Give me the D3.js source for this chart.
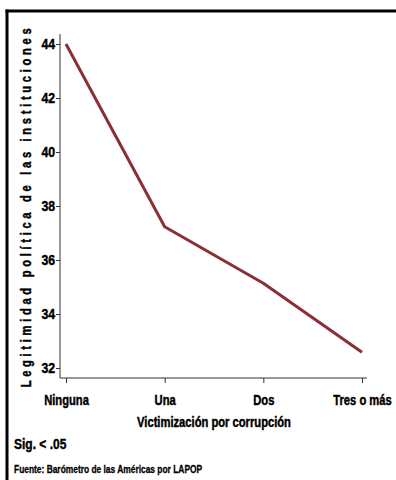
<!DOCTYPE html>
<html>
<head>
<meta charset="utf-8">
<script src="https://cdn.jsdelivr.net/npm/d3@7"></script>
<style>
  html, body { margin: 0; padding: 0; background: #fff; }
  svg { display: block; }
  text { font-family: "Liberation Sans Narrow", "Arial Narrow", "Liberation Sans", Arial, sans-serif; font-weight: bold; fill: #000; stroke: #000; stroke-width: 0.45px; }
</style>
</head>
<body>
<div id="chart"></div>
<script>
// Categories of corruption victimization and mean legitimacy score for each
const categories = ["Ninguna", "Una", "Dos", "Tres o más"];
const legitimacy = [44.0, 37.23, 35.14, 32.58];
const yTicks = [32, 34, 36, 38, 40, 42, 44];

const W = 396, H = 480;
const NARROW = 0.8; // horizontal squeeze giving a condensed face

const svg = d3.select("#chart").append("svg")
  .attr("width", W).attr("height", H);

// Outer frame (top and left rules)
svg.append("line").attr("x1", 5.5).attr("x2", W).attr("y1", 11).attr("y2", 11)
  .attr("stroke", "#000").attr("stroke-width", 3);
svg.append("line").attr("x1", 7).attr("x2", 7).attr("y1", 9.5).attr("y2", H)
  .attr("stroke", "#000").attr("stroke-width", 3);

const x = d3.scalePoint().domain(categories).range([66, 362]);
const y = d3.scaleLinear().domain([32, 44]).range([368, 44]);

const axisColor = "#333";

// Y axis
const yAxis = svg.append("g").attr("transform", "translate(60,0)")
  .call(d3.axisLeft(y).tickValues(yTicks).tickSize(4).tickPadding(2).tickFormat(d3.format("d")));
yAxis.select(".domain").remove();
yAxis.selectAll(".tick line").attr("stroke", axisColor);
yAxis.selectAll(".tick text")
  .style("font-size", "15px")
  .attr("font-family", null)
  .attr("transform", "scale(0.82,1)");
svg.append("line").attr("x1", 60).attr("x2", 60).attr("y1", 34).attr("y2", 378)
  .attr("stroke", axisColor).attr("stroke-width", 1);

// X axis
const xAxis = svg.append("g").attr("transform", "translate(0,378)")
  .call(d3.axisBottom(x).tickSize(5).tickPadding(12));
xAxis.select(".domain").remove();
xAxis.selectAll(".tick line").attr("stroke", axisColor);
xAxis.selectAll(".tick text")
  .style("font-size", "14px")
  .attr("font-family", null)
  .attr("transform", `scale(${NARROW},1)`);
svg.append("line").attr("x1", 60).attr("x2", 367).attr("y1", 378).attr("y2", 378)
  .attr("stroke", axisColor).attr("stroke-width", 1);

// Series line
const line = d3.line()
  .x((d, i) => x(categories[i]))
  .y(d => y(d));
svg.append("path").datum(legitimacy)
  .attr("d", line)
  .attr("fill", "none")
  .attr("stroke", "#8b2f36")
  .attr("stroke-width", 3)
  .attr("stroke-linejoin", "round");

// Condensed text helper
function label(tx, ty, str, size, anchor, extra) {
  return svg.append("text")
    .attr("transform", `translate(${tx},${ty}) ${extra || ""} scale(${NARROW},1)`)
    .attr("text-anchor", anchor)
    .style("font-size", size + "px")
    .text(str);
}

// Axis titles
label(30.5, 206, "Legitimidad política de las instituciones", 14, "middle", "rotate(-90)")
  .style("letter-spacing", "4.6px");
label(214, 427, "Victimización por corrupción", 14, "middle");

// Notes
label(14, 449, "Sig. < .05", 15, "start");
label(14, 473, "Fuente: Barómetro de las Américas por LAPOP", 10.5, "start")
  .style("stroke-width", "0.3px");
</script>
</body>
</html>
